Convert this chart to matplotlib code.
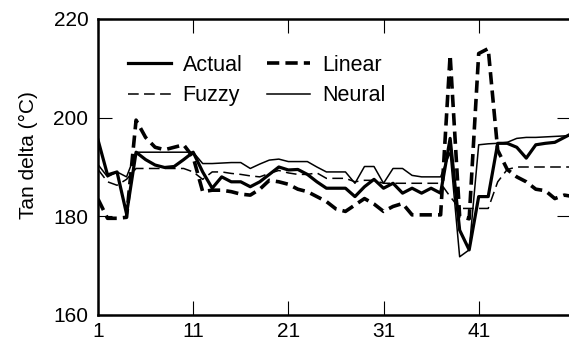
import matplotlib
matplotlib.use("Agg")
import matplotlib.pyplot as plt

plt.rcParams['font.family'] = ['Liberation Sans', 'DejaVu Sans']

x = list(range(1, 52))
actual = [195.5, 188.4, 189, 180.5, 193, 191.5, 190.4, 189.9, 190.1, 191.5,
          193, 189, 185.7, 188, 187, 187, 186, 187, 188.5, 190,
          189.4, 189.5, 188.5, 187, 185.7, 185.7, 185.7, 184, 186, 187.5,
          185.7, 186.7, 184.7, 185.7, 184.7, 185.7, 184.7, 195.8, 177.2, 173.2,
          184, 184, 194.8, 194.8, 194, 191.8, 194.5, 194.8, 195, 196, 197]
linear = [183.5, 179.6, 179.6, 179.8, 199.5, 196, 194, 193.5, 194, 194.5,
          192, 185, 185.3, 185.3, 185, 184.5, 184.3, 185.5, 187.3, 187,
          186.5, 185.5, 185, 184, 183, 181.5, 181, 182.3, 183.6, 182.5,
          181, 182, 182.6, 180.3, 180.3, 180.3, 180.3, 212.7, 180, 179.5,
          213, 214, 193.4, 189.5, 188, 187, 185.5, 185.2, 183.6, 184.3, 184]
fuzzy = [189.5, 187, 186.3, 187.5, 189.7, 189.7, 189.7, 189.7, 189.7, 189.7,
         189, 187.5, 189, 189, 188.7, 188.5, 188.2, 188, 188.7, 189.3,
         188.8, 188.5, 188.5, 188.8, 187.7, 187.7, 187.7, 187, 187.3, 187.3,
         186.7, 186.7, 186.7, 186.7, 186.7, 186.7, 186.7, 184, 181.6, 181.6,
         181.6, 181.6, 187, 189.5, 190, 190, 190, 190, 190, 190, 190]
neural = [190.5, 188, 189, 188, 193, 193, 193, 193, 193, 193,
          193, 190.7, 190.7, 190.8, 190.9, 190.9, 189.7, 190.6, 191.4, 191.6,
          191.1, 191.1, 191.1, 190, 189, 189, 189, 186.7, 190.1, 190.1,
          186.7, 189.7, 189.7, 188.3, 188, 188, 188, 193, 171.8, 173.2,
          194.5, 194.7, 194.8, 195, 195.8, 196, 196, 196.1, 196.2, 196.3, 196.4]

xticks = [1, 11, 21, 31, 41]
yticks = [160, 180, 200, 220]

fig = plt.figure(figsize=(5.69, 3.42), dpi=100)
ax = fig.add_axes([98/569, 27/342, 473/569, 296/342])

h_act, = ax.plot(x, actual, color='black', lw=2.3, label='Actual')
h_lin, = ax.plot(x, linear, color='black', lw=2.6, dashes=(3.4, 1.7), label='Linear')
h_fuz, = ax.plot(x, fuzzy, color='black', lw=1.1, dashes=(7, 3.5), label='Fuzzy')
h_neu, = ax.plot(x, neural, color='black', lw=1.1, label='Neural')

ax.set_xlim(1, 50.7)
ax.set_ylim(160, 220)
ax.set_xticks(xticks)
ax.set_yticks(yticks)
ax.tick_params(direction='in', length=10, width=0.8, labelsize=15,
               top=True, right=True, pad=5)
ax.tick_params(axis='y', pad=7)
for s in ax.spines.values():
    s.set_linewidth(1.8)
ax.set_ylabel('Tan delta (°C)', fontsize=15)
ax.yaxis.set_label_coords(-0.127, 0.54)

handles = [h_act, h_fuz, h_lin, h_neu]
ax.legend(handles=handles, labels=[h.get_label() for h in handles],
          ncol=2, frameon=False, fontsize=15.5, loc='upper left',
          bbox_to_anchor=(0.063, 0.88), handlelength=2.0,
          handletextpad=0.55, columnspacing=1.15, labelspacing=0.45,
          borderpad=0, borderaxespad=0)

fig.savefig('out.png', dpi=100)
